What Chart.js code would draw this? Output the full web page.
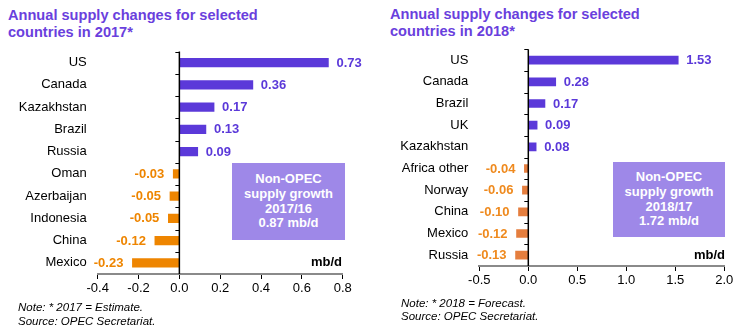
<!DOCTYPE html>
<html><head><meta charset="utf-8">
<script src="https://cdn.jsdelivr.net/npm/chart.js@4"></script>
<style>
body{margin:0;width:741px;height:333px;position:relative;background:#fff;font-family:"Liberation Sans",Arial,sans-serif;overflow:hidden}
.title{position:absolute;top:7px;font-weight:bold;font-size:14.6px;line-height:17px;color:#6a3fdd;white-space:nowrap}
.box{position:absolute;background:#9e88e8;color:#fff;font-weight:bold;font-size:13px;line-height:14.8px;text-align:center;display:flex;align-items:center;justify-content:center}
.unit{position:absolute;font-weight:bold;font-size:13px;line-height:15px;color:#000}
.note{position:absolute;font-style:italic;font-size:11.5px;line-height:14px;color:#000;white-space:nowrap}
canvas{position:absolute;top:0}
</style></head>
<body>
<div class="title" style="left:8px">Annual supply changes for selected<br>countries in 2017*</div>
<div class="title" style="left:390px;top:6px">Annual supply changes for selected<br>countries in 2018*</div>
<canvas id="c1" width="370" height="333" style="left:0"></canvas>
<canvas id="c2" width="366" height="333" style="left:375px"></canvas>
<div class="box" style="left:232px;top:163px;width:113px;height:77px">Non-OPEC<br>supply growth<br>2017/16<br>0.87 mb/d</div>
<div class="box" style="left:613px;top:162px;width:112px;height:75px">Non-OPEC<br>supply growth<br>2018/17<br>1.72 mb/d</div>
<div class="unit" style="right:399px;top:254px">mb/d</div>
<div class="unit" style="right:16px;top:247px">mb/d</div>
<div class="note" style="left:18px;top:300px">Note: * 2017 = Estimate.<br>Source: OPEC Secretariat.</div>
<div class="note" style="left:401px;top:297px;line-height:13px">Note: * 2018 = Forecast.<br>Source: OPEC Secretariat.</div>
<script>
// ---- data ----
const cats2017 = ['US','Canada','Kazakhstan','Brazil','Russia','Oman','Azerbaijan','Indonesia','China','Mexico'];
const vals2017 = [0.73,0.36,0.17,0.13,0.09,-0.03,-0.046,-0.054,-0.12,-0.23];
const xTicks2017 = {min:-0.4,max:0.8,step:0.2};
const cats2018 = ['US','Canada','Brazil','UK','Kazakhstan','Africa other','Norway','China','Mexico','Russia'];
const vals2018 = [1.53,0.28,0.17,0.09,0.08,-0.04,-0.06,-0.10,-0.12,-0.13];
const xTicks2018 = {min:-0.5,max:2.0,step:0.5};

const PURPLE = '#5b39d9';
Chart.defaults.font.family = '"Liberation Sans", Arial, sans-serif';

function makeChart(id, cats, vals, xt, geo){
  const negBar = geo.negBar, negLbl = geo.negLbl;
  const plugin = {
    id:'extras'+id,
    afterDraw(chart){
      const ctx = chart.ctx, xs = chart.scales.x, ys = chart.scales.y, ca = chart.chartArea;
      const x0 = xs.getPixelForValue(0);
      ctx.save();
      ctx.strokeStyle = '#000'; ctx.lineWidth = 1.5;
      ctx.beginPath(); ctx.moveTo(x0, ca.top); ctx.lineTo(x0, ca.bottom); ctx.stroke();
      ctx.lineWidth = 1;
      const n = cats.length, sp = (ca.bottom-ca.top)/n;
      for(let i=0;i<n;i++){
        const y = Math.round(ca.top + i*sp)+0.5;
        ctx.beginPath(); ctx.moveTo(x0-4, y); ctx.lineTo(x0, y); ctx.stroke();
      }
      // value labels
      ctx.font = 'bold 13px "Liberation Sans", Arial, sans-serif';
      ctx.textBaseline = 'middle';
      chart.getDatasetMeta(0).data.forEach((bar,i)=>{
        const v = vals[i];
        const t = v.toFixed(2);
        if(v>=0){ ctx.fillStyle = PURPLE; ctx.textAlign='left'; ctx.fillText(t, bar.x+8, bar.y+0.5); }
        else { ctx.fillStyle = negLbl; ctx.textAlign='right'; ctx.fillText(t, bar.x-9, bar.y+0.5); }
      });
      ctx.restore();
    }
  };
  return new Chart(document.getElementById(id), {
    type:'bar',
    data:{labels:cats, datasets:[{data:vals, backgroundColor: vals.map(v=>v>=0?PURPLE:negBar), barThickness:geo.bt, borderWidth:0}]},
    options:{
      indexAxis:'y', responsive:false, animation:false, devicePixelRatio:1,
      layout:{padding:{top:geo.top,right:geo.right,left:0,bottom:0}},
      plugins:{legend:{display:false},tooltip:{enabled:false}},
      scales:{
        x:{min:xt.min,max:xt.max,
          afterFit(s){ s.height = geo.h - geo.bottom; },
          afterBuildTicks(s){ const t=[]; for(let v=xt.min; v<=xt.max+1e-9; v+=xt.step) t.push({value:Math.round(v*100)/100}); s.ticks=t; },
          ticks:{color:'#000',font:{size:13},padding:2,maxRotation:0,autoSkip:false,
            callback:(v)=>Math.abs(v)<1e-9?'0.0':Number(v).toFixed(1)},
          grid:{drawOnChartArea:false,drawTicks:true,tickLength:5,color:'#000',lineWidth:1},
          border:{color:'#8a8a8a',width:2}
        },
        y:{
          afterFit(s){ s.width = geo.left; },
          ticks:{color:'#000',font:{size:13},padding:11,autoSkip:false},
          grid:{display:false,drawTicks:false},
          border:{display:false}
        }
      }
    },
    plugins:[plugin]
  });
}
makeChart('c1', cats2017, vals2017, xTicks2017, {top:51.5,right:27.3,left:97.7,bottom:274,h:333,bt:8.5,negBar:'#ee8500',negLbl:'#ee8500'});
makeChart('c2', cats2018, vals2018, xTicks2018, {top:49.3,right:16.7,left:104.3,bottom:266,h:333,bt:8,negBar:'#e57e3e',negLbl:'#ef8a1e'});
</script>
</body></html>
